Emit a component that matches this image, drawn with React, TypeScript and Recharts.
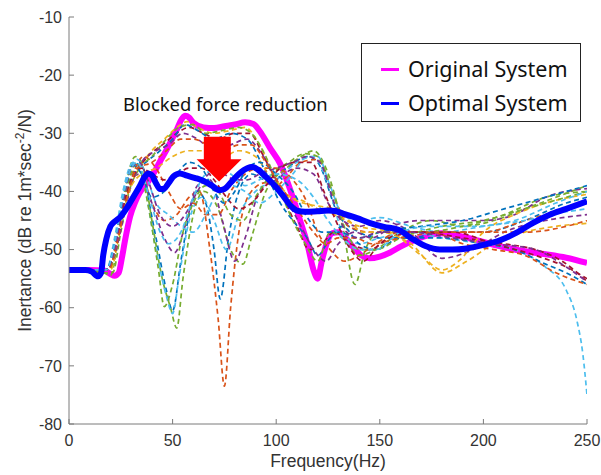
import React from 'react';
import {
  LineChart, Line, XAxis, YAxis, Legend, Label, ReferenceArea, ReferenceDot,
} from 'recharts';

type Pt = [number, number];

// ---- tick labels / axes ----
const xTicks = [0, 50, 100, 150, 200, 250];
const yTicks = [-80, -70, -60, -50, -40, -30, -20, -10];
const xTitle = 'Frequency(Hz)';
const yTitleMain = 'Inertance (dB re 1m*sec';
const yTitleSup = '-2';
const yTitleEnd = '/N)';
const annotationText = 'Blocked force reduction';
const annotationAt: Pt = [26.1, -26.2];
const arrowBox = { f1: 61.6, f2: 83.3, v1: -30.6, v2: -38.3 };

// ---- main series ----
const originalName = 'Original System';
const original: Pt[] = [
  [0, -53.5], [10, -53.5], [17, -53.6], [20, -54.2], [22, -54.5], [24, -54], [25.5, -51.5],
  [27, -48.5], [29.5, -44.3], [32, -41.8], [34, -40.3], [38, -38.4], [41, -36.8], [44, -34.8],
  [47, -32.9], [50, -30.8], [52, -29.4], [54, -27.8], [56, -27], [58, -27.3], [60, -28.2],
  [65, -29], [70, -29.1], [75, -28.8], [80, -28.5], [85, -28.1], [89, -28.4], [92, -29.6],
  [97, -32.5], [102, -35.3], [108, -41], [112, -45.5], [115, -49], [118, -53.5], [120, -55],
  [122, -52], [124.5, -48.8], [127, -47.2], [130, -47], [133, -47.8], [137, -49.5], [141, -51],
  [145, -51.5], [150, -51.2], [155, -50.5], [160, -49.5], [166, -48.5], [172, -47.7],
  [180, -47.2], [190, -47.8], [200, -48.7], [210, -49.6], [220, -50.3], [230, -50.8],
  [240, -51.4], [250, -52.3],
];

const optimalName = 'Optimal System';
const optimal: Pt[] = [
  [0, -53.5], [8, -53.5], [11, -53.8], [14, -54.6], [15.5, -54], [16.5, -51], [18, -48.2],
  [20, -46], [22, -45.2], [25, -44.3], [28, -42.8], [31, -41], [34, -39.2], [36.5, -37.5],
  [38.3, -36.9], [40, -37.2], [42, -38.6], [44, -39.6], [46, -39.5], [48, -38.6], [50.5, -37.4],
  [53.5, -36.9], [57, -37.3], [61, -37.7], [65, -38.2], [69, -39], [72.5, -39.8], [75, -39.6],
  [78, -38.5], [82, -37], [86, -36], [88.5, -35.8], [91, -36.2], [95, -37.5], [99, -38.9],
  [103, -40.6], [107, -42.5], [110, -43.3], [114, -43.5], [120, -43.4], [125, -43.3],
  [129, -43.4], [133, -43.9], [139, -44.6], [145, -45.4], [152, -46.1], [159, -46.6],
  [165, -48], [172, -49.4], [179, -50], [185, -50], [192, -49.8], [200, -49.2], [208, -48.4],
  [216, -47.1], [224, -45.4], [232, -44], [240, -43], [250, -41.7],
];

const legendOrder = [originalName, optimalName];

// ---- candidate (dashed) series ----
const cand01: Pt[] = [[0, -53.5], [17, -53.5], [20, -53], [24, -45], [28, -38], [32, -35], [36, -38], [42, -48], [47, -57], [50, -60.5], [54, -52], [58, -44], [62, -40], [66, -42], [70, -50], [73, -58.5], [77, -48], [82, -40], [88, -37], [95, -38], [105, -36], [115, -34], [120, -35], [130, -44], [140, -47], [150, -48], [165, -48], [180, -47], [200, -47], [220, -45], [240, -42], [250, -41]];
const cand02: Pt[] = [[0, -53.5], [18, -53.5], [22, -50], [26, -42], [30, -37], [34, -36], [40, -42], [46, -45], [52, -44], [58, -41], [63, -40], [68, -50], [72, -62], [75, -73.5], [78, -60], [82, -47], [88, -40], [95, -38.5], [100, -39], [105, -37.5], [112, -35], [120, -34.5], [128, -41], [135, -46], [145, -47], [160, -47], [180, -47], [200, -47], [220, -45], [240, -43], [250, -42]];
const cand03: Pt[] = [[0, -53.5], [17, -54], [20, -54.5], [23, -50], [27, -40], [32, -34], [35, -35], [40, -45], [45, -55], [49, -60], [52, -63.5], [55, -55], [60, -44], [65, -40], [72, -43], [78, -50], [84, -52.5], [88, -48], [95, -40], [105, -36], [112, -34], [118, -33], [124, -36], [132, -46], [138, -56], [143, -50], [150, -47], [170, -47], [190, -46], [210, -44], [230, -41], [250, -40]];
const cand04: Pt[] = [[0, -53.5], [18, -53.5], [22, -48], [26, -40], [31, -35], [35, -37], [42, -50], [47, -58], [50, -61], [53, -55], [58, -45], [64, -41], [70, -45], [76, -50], [82, -44], [90, -40], [100, -38], [110, -35], [118, -34], [126, -40], [132, -47], [140, -49], [150, -48], [165, -47], [180, -48], [200, -49], [215, -50], [230, -53], [240, -57], [245, -62], [248, -68], [250, -75]];
const cand05: Pt[] = [[0, -53.5], [18, -53.5], [22, -50], [26, -43], [30, -38], [34, -37], [40, -42], [46, -48], [51, -50.5], [56, -46], [62, -39], [68, -38], [74, -45], [80, -52], [85, -48], [92, -40], [100, -38], [110, -36], [118, -37], [125, -42], [132, -45], [140, -46], [150, -45], [165, -47], [180, -51.5], [195, -50], [210, -47], [230, -45], [250, -44]];
const cand06: Pt[] = [[0, -53.5], [20, -53.5], [24, -48], [28, -41], [34, -36], [40, -33], [46, -31], [52, -29], [57, -28], [62, -29], [70, -30], [78, -29.5], [85, -29], [92, -32], [100, -38], [107, -41], [113, -42], [120, -42.5], [128, -43], [135, -45], [142, -47], [150, -47], [165, -49], [180, -54], [192, -52], [205, -49], [220, -47], [235, -46], [250, -45.5]];
const cand07: Pt[] = [[0, -53.5], [19, -53.5], [23, -49], [27, -42], [32, -37], [38, -34], [45, -32], [52, -30], [58, -29], [65, -30], [72, -31], [80, -30], [87, -30], [94, -34], [102, -40], [110, -46], [116, -50], [122, -49], [128, -47], [136, -49], [145, -50], [155, -48], [170, -47], [190, -48], [210, -49], [225, -50], [238, -52], [250, -55.5]];
const cand08: Pt[] = [[0, -53.5], [18, -53.5], [22, -50], [26, -42], [31, -37], [37, -35], [44, -33], [50, -31], [56, -28.5], [62, -29.5], [70, -31], [78, -30], [86, -31], [94, -36], [102, -42], [108, -45], [115, -48], [120, -51], [126, -48], [132, -46], [140, -49], [148, -50], [160, -48], [180, -48], [200, -49], [215, -50], [230, -52.5], [240, -54], [250, -56]];
const cand09: Pt[] = [[0, -53.5], [19, -53.5], [23, -49], [27, -42], [31, -37], [36, -34], [42, -36], [48, -40], [54, -43], [60, -42], [66, -44], [72, -44], [78, -40], [85, -37], [92, -36], [100, -36], [108, -38], [115, -42], [120, -47], [126, -50], [133, -52], [140, -51], [148, -49], [160, -47], [175, -47], [190, -49], [205, -50], [220, -51], [235, -54], [250, -56]];
const cand10: Pt[] = [[0, -53.5], [18, -54], [21, -54], [25, -47], [29, -40], [34, -36], [40, -34], [47, -31], [53, -29], [60, -28.5], [66, -30], [74, -29.5], [82, -29], [88, -30], [95, -34], [102, -40], [108, -45], [114, -49], [120, -52], [126, -47], [132, -48], [140, -51], [148, -50], [160, -47], [175, -45], [190, -46], [205, -45], [220, -43], [235, -41], [250, -39]];
const cand11: Pt[] = [[0, -53.5], [18, -53.5], [22, -51], [26, -45], [30, -39], [35, -35], [42, -33], [48, -32], [55, -30], [62, -31], [70, -33], [78, -32], [86, -31], [92, -33], [100, -38], [106, -42], [112, -46], [118, -50], [124, -52], [130, -49], [138, -47], [146, -48], [156, -46], [170, -45], [185, -45], [200, -45], [215, -44], [230, -41], [250, -39.5]];
const cand12: Pt[] = [[0, -53.5], [18, -53.5], [22, -49], [26, -41], [30, -36], [33, -34.5], [37, -37], [42, -42], [48, -44], [54, -46], [60, -47], [66, -44], [72, -40], [78, -39], [85, -40], [92, -42], [100, -40], [108, -37], [115, -34], [120, -34], [126, -39], [132, -44], [140, -45], [150, -44.5], [165, -46], [180, -47], [200, -46], [220, -45], [240, -43.5], [250, -43]];
const cand13: Pt[] = [[0, -53.5], [19, -53.5], [24, -47], [29, -40], [35, -37], [42, -36], [50, -34], [58, -33], [66, -33], [74, -34], [82, -33], [90, -34], [98, -38], [106, -41], [112, -41.5], [120, -43], [128, -44], [140, -46], [155, -47], [170, -51], [180, -53.5], [188, -52], [200, -47], [215, -44], [230, -42], [250, -40.5]];
const cand14: Pt[] = [[0, -53.5], [17, -53.5], [20, -53], [24, -46], [29, -38], [33, -35], [38, -42], [43, -53], [46, -59.8], [50, -56], [55, -47], [60, -42], [66, -39], [72, -40], [78, -44], [84, -45], [90, -41], [98, -37], [106, -35], [114, -33.5], [120, -34], [127, -40], [134, -47], [140, -50], [148, -50], [160, -48], [180, -46], [200, -45], [220, -43], [240, -41], [250, -40]];
const cand15: Pt[] = [[0, -53.5], [18, -53.5], [22, -50], [26, -43], [30, -38], [35, -36], [40, -37], [46, -38], [52, -37], [58, -36], [64, -36], [70, -38], [76, -41], [82, -43], [88, -42], [95, -39], [102, -36], [110, -35], [117, -35], [123, -40], [130, -46], [136, -50], [142, -52], [150, -49], [165, -47], [185, -47], [205, -49], [225, -51], [240, -53], [250, -55]];
const cand16: Pt[] = [[0, -53.5], [18, -53.5], [22, -49], [27, -40], [31, -35.5], [35, -37], [40, -41], [46, -40], [52, -37], [58, -35], [64, -36], [70, -40], [75, -42], [80, -40], [86, -36], [92, -35], [100, -37], [108, -40], [116, -45], [122, -47], [130, -47], [140, -48], [150, -47], [170, -46], [190, -45], [210, -43], [230, -41], [250, -39]];
const cand17: Pt[] = [[0, -53.5], [19, -53.5], [23, -49], [28, -41], [33, -36], [40, -35], [47, -33], [54, -31], [60, -31], [67, -32], [74, -33], [82, -32], [88, -32], [95, -35], [102, -39], [110, -43], [118, -47], [124, -49], [130, -48], [138, -48], [146, -49], [160, -48], [180, -47], [200, -47], [220, -47], [240, -46], [250, -45]];
const cand18: Pt[] = [[0, -53.5], [18, -53.5], [22, -50], [26, -42], [30, -36], [34, -35], [38, -38], [44, -44], [50, -46], [56, -44], [62, -40], [68, -37], [74, -37], [80, -38], [86, -38], [92, -37], [100, -36], [108, -35], [115, -34], [121, -35], [128, -42], [134, -47], [140, -48], [150, -47], [165, -47], [185, -48], [205, -49], [225, -50], [240, -53], [250, -55.5]];
const cand19: Pt[] = [[0, -53.5], [18, -53.5], [22, -49], [26, -41], [30, -36], [33, -35], [38, -40], [44, -47], [48, -49], [54, -47], [60, -41], [66, -37], [72, -36], [78, -37], [85, -39], [92, -38], [100, -37], [110, -38], [118, -41], [125, -45], [132, -48], [140, -50], [148, -50], [160, -47], [175, -46], [195, -46], [215, -45], [235, -42], [250, -40]];

const candidates: Pt[][] = [
  cand01, cand02, cand03, cand04, cand05, cand06, cand07, cand08, cand09, cand10,
  cand11, cand12, cand13, cand14, cand15, cand16, cand17, cand18, cand19,
];
const candidateColors = [
  '#0072BD', '#D95319', '#77AC30', '#4DBEEE', '#7E2F8E', '#EDB120', '#A2142F', '#0072BD',
  '#D95319', '#77AC30', '#7E2F8E', '#4DBEEE', '#EDB120', '#77AC30', '#A2142F', '#0072BD',
  '#D95319', '#7E2F8E', '#4DBEEE',
];

const toRows = (s: Pt[]) => s.map(([f, v]) => ({ f, v }));

const AXIS = '#7a7a7a';
const TEXT = '#333333';
const FONT = '"Liberation Sans", Arial, sans-serif';
const W = 601;
const H = 475;

const renderLegend = (props: any) => {
  const items = (props.payload || [])
    .filter((p: any) => legendOrder.includes(p.value))
    .sort((a: any, b: any) => legendOrder.indexOf(a.value) - legendOrder.indexOf(b.value));
  return (
    <div
      style={{
        boxSizing: 'border-box',
        width: 220,
        height: 79,
        border: '1px solid #222',
        background: '#fff',
        paddingTop: 8,
        fontFamily: '"Noto Sans", sans-serif',
        fontSize: 21.5,
        color: '#111',
      }}
    >
      {items.map((it: any) => (
        <div key={it.value} style={{ display: 'flex', alignItems: 'center', height: 34 }}>
          <span
            style={{ display: 'inline-block', marginLeft: 19, width: 18, height: 3, background: it.color }}
          />
          <span style={{ marginLeft: 9, lineHeight: '34px', whiteSpace: 'nowrap' }}>{it.value}</span>
        </div>
      ))}
    </div>
  );
};

const XTitle = (props: any) => {
  const vb = props.viewBox || {};
  return (
    <text x={vb.x + vb.width / 2} y={vb.y + 43} textAnchor="middle" fill={TEXT} fontFamily={FONT} fontSize={17.5}>
      {xTitle}
    </text>
  );
};

const YTitle = (props: any) => {
  const vb = props.viewBox || {};
  const cx = (vb.x || 0) + 31;
  const cy = (vb.y || 0) + (vb.height || 0) / 2;
  return (
    <text
      x={cx}
      y={cy}
      transform={`rotate(-90, ${cx}, ${cy})`}
      textAnchor="middle"
      fill={TEXT}
      fontFamily={FONT}
      fontSize={17.5}
    >
      {yTitleMain}
      <tspan dy={-7} fontSize={12}>{yTitleSup}</tspan>
      <tspan dy={7}>{yTitleEnd}</tspan>
    </text>
  );
};

const ArrowShape = (props: any) => {
  const { x, y, width, height } = props;
  if (![x, y, width, height].every((n) => typeof n === 'number')) return null;
  const sx1 = x + width * 0.16;
  const sx2 = x + width * 0.76;
  const hy = y + height * 0.5;
  const tipX = x + width * 0.5;
  const pts = [
    [sx1, y], [sx2, y], [sx2, hy], [x + width, hy], [tipX, y + height], [x, hy], [sx1, hy],
  ].map((p) => p.join(',')).join(' ');
  return <polygon points={pts} fill="#FF0000" stroke="none" />;
};

const AnnotationText = (props: any) => {
  const { cx, cy } = props;
  if (typeof cx !== 'number' || typeof cy !== 'number') return null;
  return (
    <text x={cx} y={cy} fill="#111" fontFamily='"Noto Sans", sans-serif' fontSize={18.4}>
      {annotationText}
    </text>
  );
};

export default function App() {
  return (
    <div style={{ position: 'absolute', left: 0, top: 0, width: W, height: H, background: '#fff' }}>
      <LineChart width={W} height={H} margin={{ top: 17, right: 14, bottom: 0, left: 0 }}>
        <XAxis
          xAxisId={0}
          dataKey="f"
          type="number"
          domain={[0, 250]}
          ticks={xTicks}
          allowDataOverflow
          height={51}
          stroke={AXIS}
          tickSize={-5}
          tickMargin={16}
          tick={{ fill: TEXT, fontSize: 16, fontFamily: FONT }}
          axisLine={{ stroke: AXIS }}
          tickLine={{ stroke: AXIS }}
        >
          <Label content={XTitle} />
        </XAxis>
        <XAxis
          xAxisId="top"
          orientation="top"
          dataKey="f"
          type="number"
          domain={[0, 250]}
          ticks={xTicks}
          allowDataOverflow
          height={0}
          tickSize={-5}
          tick={false}
          axisLine={{ stroke: AXIS }}
          tickLine={{ stroke: AXIS }}
        />
        <YAxis
          yAxisId={0}
          type="number"
          domain={[-80, -10]}
          ticks={yTicks}
          allowDataOverflow
          width={69}
          tickSize={-5}
          tickMargin={12}
          tick={{ fill: TEXT, fontSize: 16, fontFamily: FONT }}
          axisLine={{ stroke: AXIS }}
          tickLine={{ stroke: AXIS }}
        >
          <Label content={YTitle} />
        </YAxis>
        <YAxis
          yAxisId="right"
          orientation="right"
          type="number"
          domain={[-80, -10]}
          ticks={yTicks}
          allowDataOverflow
          width={0}
          tickSize={-5}
          tick={false}
          axisLine={{ stroke: AXIS }}
          tickLine={{ stroke: AXIS }}
        />

        <Line
          data={toRows(original)}
          dataKey="v"
          name={originalName}
          type="monotone"
          stroke="#FF00FF"
          strokeWidth={6}
          dot={false}
          activeDot={false}
          isAnimationActive={false}
        />
        {candidates.map((c, i) => (
          <Line
            key={`cand${i}`}
            data={toRows(c)}
            dataKey="v"
            name={`cand${i + 1}`}
            type="monotone"
            stroke={candidateColors[i]}
            strokeWidth={1.7}
            strokeDasharray="5 3.5"
            dot={false}
            activeDot={false}
            legendType="none"
            isAnimationActive={false}
          />
        ))}
        <Line
          data={toRows(optimal)}
          dataKey="v"
          name={optimalName}
          type="monotone"
          stroke="#0000FF"
          strokeWidth={6}
          dot={false}
          activeDot={false}
          isAnimationActive={false}
        />

        <ReferenceArea
          x1={arrowBox.f1}
          x2={arrowBox.f2}
          y1={arrowBox.v1}
          y2={arrowBox.v2}
          shape={ArrowShape}
          zIndex={1000}
          ifOverflow="visible"
        />
        <ReferenceDot
          x={annotationAt[0]}
          y={annotationAt[1]}
          r={0}
          shape={AnnotationText}
          zIndex={1000}
          ifOverflow="visible"
        />

        <Legend
          layout="horizontal"
          verticalAlign="middle"
          align="center"
          content={renderLegend}
          wrapperStyle={{ position: 'absolute', left: 361, top: 43, width: 220, height: 79 }}
        />
      </LineChart>
    </div>
  );
}
